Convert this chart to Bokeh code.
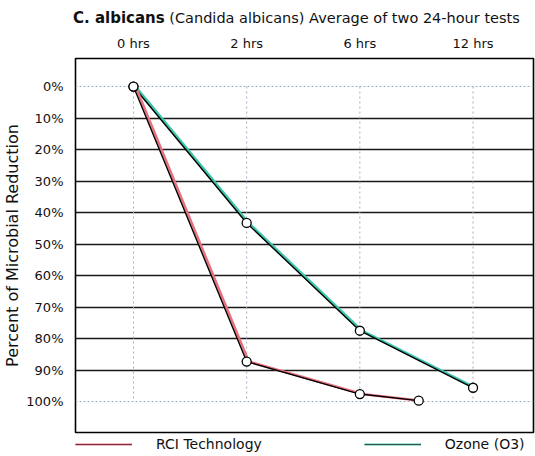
from bokeh.plotting import figure
from bokeh.layouts import column
from bokeh.models import Range1d, FixedTicker, Grid, Legend, LegendItem, ColumnDataSource, Div
from bokeh.transform import dodge
from bokeh.embed import file_html
from bokeh.resources import INLINE

# ---- data ----
title_bold = "C. albicans"
title_rest = "(Candida albicans) Average of two 24-hour tests"

hour_labels = ["0 hrs", "2 hrs", "6 hrs", "12 hrs"]
hour_pos = [0, 1, 2, 3]

rci_x = [0, 1, 2, 2.52]
rci_y = [0, 87.3, 97.6, 99.7]

ozone_x = [0, 1, 2, 3]
ozone_y = [0, 43.3, 77.5, 95.6]

pct_ticks = [0, 10, 20, 30, 40, 50, 60, 70, 80, 90, 100]
pct_labels = ["0%", "10%", "20%", "30%", "40%", "50%", "60%", "70%", "80%", "90%", "100%"]
solid_ticks = [10, 20, 30, 40, 50, 60, 70, 80, 90]
dotted_ticks = [0, 100]

series_names = ["RCI Technology", "Ozone (O3)"]

FONT = "DejaVu Sans"
PINK = "#e8707f"
TEAL = "#3cc6aa"
LIGHT = "#9fb0c2"

TITLE_H = 32
LEG_H = 22
W, H = 535, 456

div = Div(text=(f'<div style="padding:9px 0 0 73px;font-family:\'DejaVu Sans\';font-size:14.5px;'
                f'line-height:18px;color:#111111;white-space:nowrap;">'
                f'<span style="font-weight:bold;font-size:15px;">{title_bold}</span> {title_rest}</div>'),
          width=W, height=TITLE_H, margin=(0, 0, 0, 0))

p = figure(width=W, height=H - TITLE_H - LEG_H,
           x_range=Range1d(-0.512, 3.534), y_range=Range1d(109.8, -8.9),
           x_axis_location="above",
           output_backend="svg", toolbar_location=None,
           min_border_left=75, min_border_right=2, min_border_top=58 - TITLE_H, min_border_bottom=2,
           margin=(0, 0, 0, 0))

p.background_fill_color = "white"
p.border_fill_color = "white"
p.outline_line_color = "black"
p.outline_line_width = 1.6

# axes
xa = p.xaxis[0]
xa.ticker = FixedTicker(ticks=hour_pos)
xa.major_label_overrides = {k: v for k, v in zip(hour_pos, hour_labels)}
xa.major_label_text_font = FONT
xa.major_label_text_font_size = "13px"
xa.major_label_text_color = "#111111"
xa.major_label_standoff = 8
xa.axis_line_color = None
xa.major_tick_line_color = None
xa.minor_tick_line_color = None
xa.major_tick_out = 0
xa.major_tick_in = 0

ya = p.yaxis[0]
ya.ticker = FixedTicker(ticks=pct_ticks)
ya.major_label_overrides = {k: v for k, v in zip(pct_ticks, pct_labels)}
ya.major_label_text_font = FONT
ya.major_label_text_font_size = "13px"
ya.major_label_text_color = "#111111"
ya.major_label_standoff = 12
ya.axis_line_color = None
ya.major_tick_line_color = None
ya.minor_tick_line_color = None
ya.major_tick_out = 0
ya.major_tick_in = 0
ya.axis_label = "Percent of Microbial Reduction"
ya.axis_label_text_font = FONT
ya.axis_label_text_font_size = "16px"
ya.axis_label_text_font_style = "normal"
ya.axis_label_text_color = "#111111"
ya.axis_label_standoff = 1

# grids
p.xgrid.visible = False
p.ygrid.ticker = FixedTicker(ticks=solid_ticks)
p.ygrid.grid_line_color = "black"
p.ygrid.grid_line_width = 1.6
p.ygrid.grid_line_alpha = 0.9

g2 = Grid(dimension=1, ticker=FixedTicker(ticks=dotted_ticks),
          grid_line_color=LIGHT, grid_line_dash="2 2", grid_line_width=1)
p.add_layout(g2)

p.segment(x0=hour_pos, y0=[dotted_ticks[0]] * len(hour_pos),
          x1=hour_pos, y1=[dotted_ticks[1]] * len(hour_pos),
          line_color=LIGHT, line_dash="2 3", line_width=1)

# series
src_oz = ColumnDataSource(dict(x=ozone_x, y=ozone_y))
src_rci = ColumnDataSource(dict(x=rci_x, y=rci_y))

p.line(x=dodge("x", 0.018, range=p.x_range), y="y", source=src_oz, line_color=TEAL, line_width=2.6)
p.line(x="x", y="y", source=src_oz, line_color="black", line_width=1.4)
p.line(x=dodge("x", 0.018, range=p.x_range), y="y", source=src_rci, line_color=PINK, line_width=2.6)
p.line(x="x", y="y", source=src_rci, line_color="black", line_width=1.4)

p.scatter(x="x", y="y", source=src_oz, size=9, fill_color="white", line_color="black", line_width=1.3)
p.scatter(x="x", y="y", source=src_rci, size=9, fill_color="white", line_color="black", line_width=1.3)

# legend strip (own small figure so the legend is not clipped); its frame lines up with the chart frame
pl = figure(width=W, height=LEG_H, x_range=Range1d(0, 1), y_range=Range1d(1000, 1001),
            x_axis_type=None, y_axis_type=None, output_backend="svg", toolbar_location=None,
            min_border_left=0, min_border_right=0, min_border_top=0, min_border_bottom=0,
            margin=(0, 0, 0, 0))
pl.outline_line_color = None
pl.grid.visible = False
pl.background_fill_color = "white"
pl.border_fill_color = "white"

lr_c = pl.line(x="x", y="y", source=src_rci, line_color=PINK, line_width=2.0)
lr_k = pl.line(x="x", y="y", source=src_rci, line_color="#5a2030", line_width=0.8)
lo_c = pl.line(x="x", y="y", source=src_oz, line_color=TEAL, line_width=2.0)
lo_k = pl.line(x="x", y="y", source=src_oz, line_color="#303838", line_width=0.8)

legend = Legend(items=[LegendItem(label=series_names[0], renderers=[lr_c, lr_k]),
                       LegendItem(label=series_names[1], renderers=[lo_c, lo_k])],
                orientation="horizontal", location=(0, 2),
                glyph_width=57, glyph_height=20, label_height=20,
                label_standoff=24, spacing=102, padding=0, margin=0,
                border_line_color=None, background_fill_alpha=0,
                label_text_font=FONT, label_text_font_size="14px", label_text_color="#111111")
pl.add_layout(legend)

layout = column(div, p, pl, spacing=0)

open("out.html", "w").write(file_html(layout, INLINE))
